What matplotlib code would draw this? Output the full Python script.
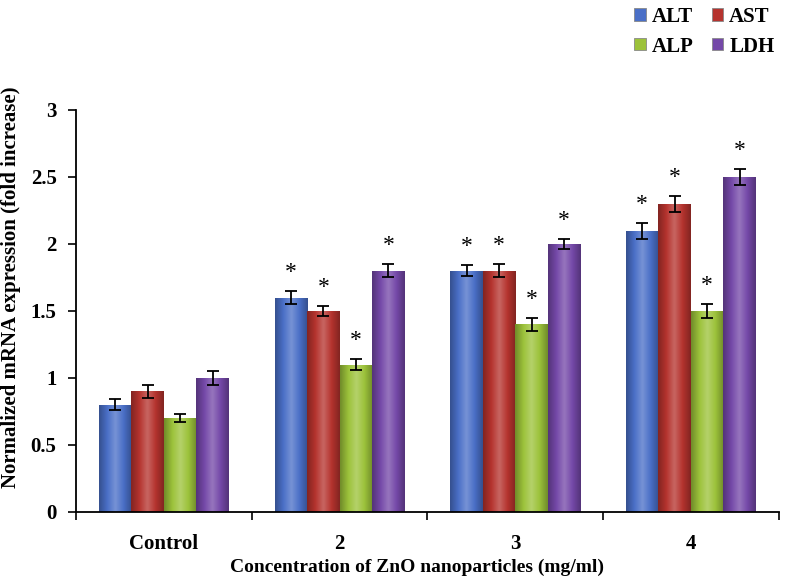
import numpy as np
import matplotlib
matplotlib.use("Agg")
import matplotlib.pyplot as plt
import matplotlib.patches as mpatches
from matplotlib.colors import LinearSegmentedColormap, to_rgb

groups = ["Control", "2", "3", "4"]
series = ["ALT", "AST", "ALP", "LDH"]
values = {
    "ALT": [0.8, 1.6, 1.8, 2.1],
    "AST": [0.9, 1.5, 1.8, 2.3],
    "ALP": [0.7, 1.1, 1.4, 1.5],
    "LDH": [1.0, 1.8, 2.0, 2.5],
}
errors = {
    "ALT": [0.04, 0.05, 0.04, 0.06],
    "AST": [0.05, 0.04, 0.05, 0.06],
    "ALP": [0.03, 0.04, 0.05, 0.05],
    "LDH": [0.05, 0.05, 0.04, 0.06],
}
# significance marks (Control has none)
signif = [False, True, True, True]

colors = {"ALT": "#4A6FC7", "AST": "#B5332E", "ALP": "#9CC23A", "LDH": "#7448A8"}

plt.rcParams["font.family"] = ["Liberation Serif", "DejaVu Serif"]

fig = plt.figure(figsize=(7.87, 5.81), dpi=100)
ax = fig.add_axes([0.0966, 0.1188, 0.893, 0.6919])

bw = 0.185
offsets = (np.arange(len(series)) - 1.5) * bw
x = np.arange(len(groups))


def shaded_bar(ax, x0, w, h, base):
    c = np.array(to_rgb(base))
    dark = c * 0.72
    light = np.clip(c + (1 - c) * 0.25, 0, 1)
    cmap = LinearSegmentedColormap.from_list("g", [dark, c, light, c, dark])
    grad = np.linspace(0, 1, 64).reshape(1, -1)
    im = ax.imshow(grad, cmap=cmap, aspect="auto", extent=[x0, x0 + w, 0, h],
                   zorder=2, interpolation="bicubic")
    rect = mpatches.Rectangle((x0, 0), w, h, facecolor="none", edgecolor="none")
    ax.add_patch(rect)
    im.set_clip_path(rect)


for i, s in enumerate(series):
    for j in range(len(groups)):
        xc = x[j] + offsets[i]
        shaded_bar(ax, xc - bw / 2, bw, values[s][j], colors[s])
    ax.errorbar(x + offsets[i], values[s], yerr=errors[s], fmt="none",
                ecolor="black", elinewidth=1.3, capsize=4, capthick=1.3, zorder=3)
    for j in range(len(groups)):
        if signif[j]:
            ax.text(x[j] + offsets[i], values[s][j] + errors[s][j] + 0.06, "*",
                    ha="center", va="bottom", fontsize=17, zorder=4)

ax.set_xlim(-0.5, len(groups) - 0.5)
ax.set_ylim(0, 3)
ax.set_yticks(np.arange(0, 3.01, 0.5))
ax.set_yticklabels(["0", "0.5", "1", "1.5", "2", "2.5", "3"],
                   fontsize=15, fontweight="bold")
ax.set_xticks(np.arange(-0.5, len(groups)), minor=False)
ax.set_xticklabels([])
ax.set_xticks(x, minor=True)
ax.set_xticklabels(groups, minor=True, fontsize=15, fontweight="bold")
ax.tick_params(axis="x", which="minor", length=0, pad=16)
ax.tick_params(axis="x", which="major", length=6, width=1.2, direction="out")
ax.tick_params(axis="y", length=6, width=1.2, direction="out", pad=8)

for sp in ["top", "right"]:
    ax.spines[sp].set_visible(False)
for sp in ["left", "bottom"]:
    ax.spines[sp].set_linewidth(1.3)

ax.set_ylabel("Normalized mRNA expression (fold increase)", fontsize=15,
              fontweight="bold")
ax.yaxis.set_label_coords(-0.078, 0.56)
ax.set_xlabel("Concentration of ZnO nanoparticles (mg/ml)", fontsize=14,
              fontweight="bold")
ax.xaxis.set_label_coords(0.485, -0.117)

handles = [mpatches.Patch(facecolor=colors[s], edgecolor="#888888",
                          linewidth=0.6, label=s) for s in series]
# order so that rows read ALT AST / ALP LDH
order = [handles[0], handles[2], handles[1], handles[3]]
fig.legend(handles=order, ncol=2, loc="upper right", bbox_to_anchor=(1.008, 1.02),
           frameon=False, prop={"size": 15, "weight": "bold"},
           handlelength=0.55, handleheight=0.55, handletextpad=0.3,
           columnspacing=0.85, labelspacing=0.45)

fig.savefig("out.png", dpi=100)
